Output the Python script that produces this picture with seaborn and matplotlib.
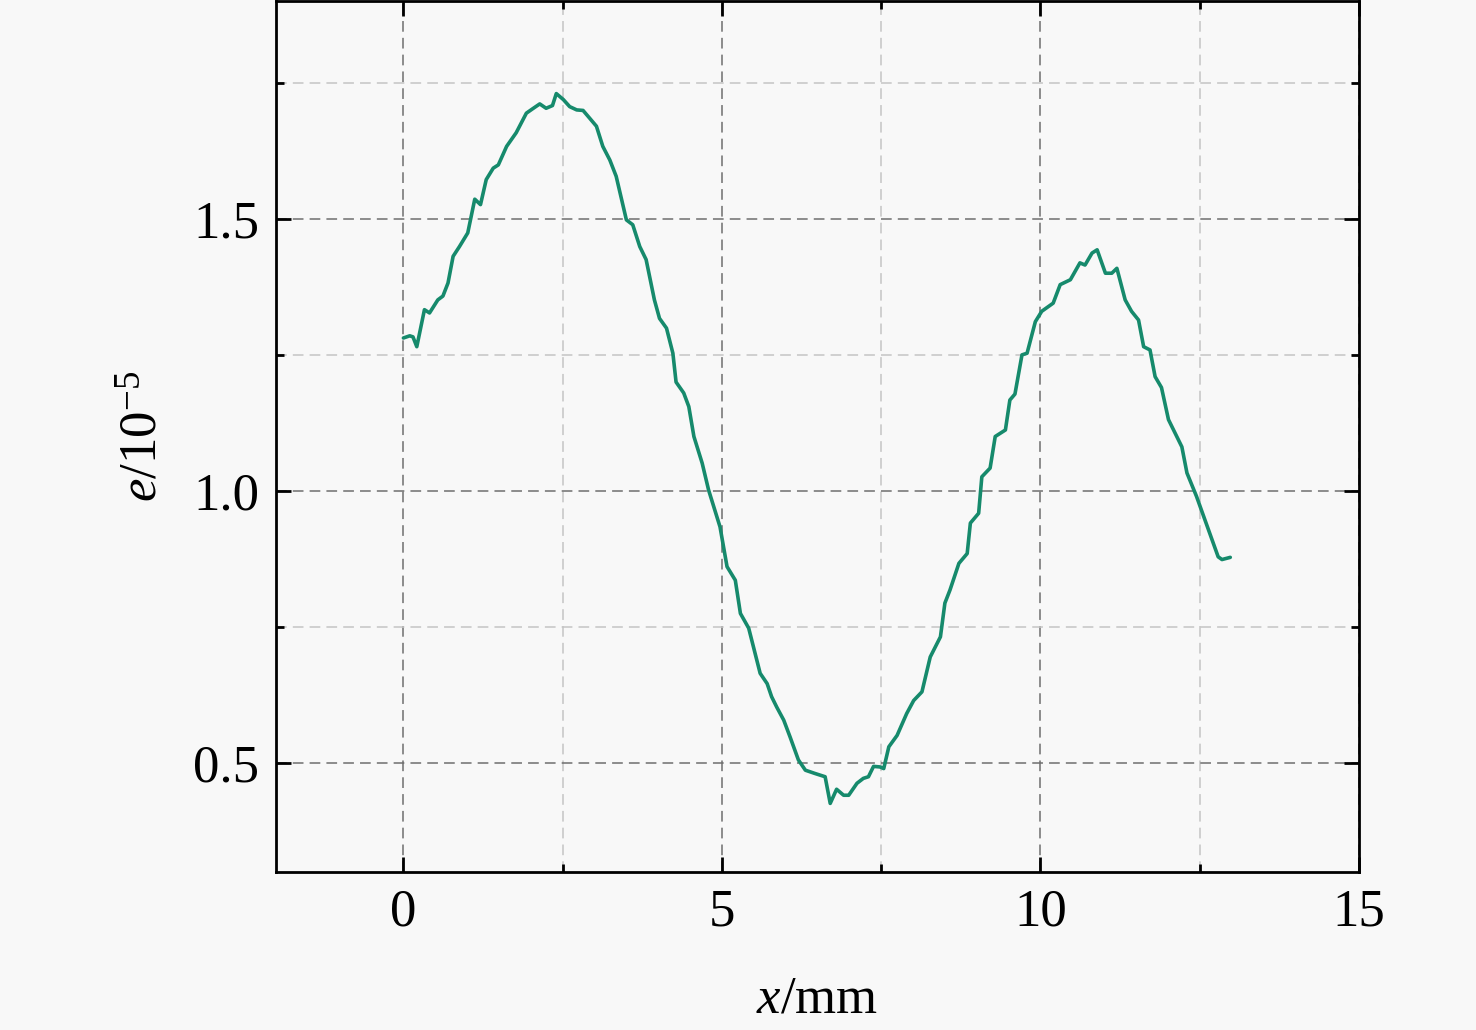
import numpy as np
import pandas as pd
import seaborn as sns
import matplotlib
matplotlib.use("Agg")
import matplotlib.pyplot as plt
from matplotlib.ticker import MultipleLocator, FormatStrFormatter

# position along the sample (mm)
x_mm = [0.00, 0.10, 0.15, 0.21, 0.33, 0.41, 0.54, 0.62, 0.70, 0.78, 0.88, 1.01,
        1.12, 1.21, 1.30, 1.41, 1.49, 1.62, 1.77, 1.93, 2.04, 2.14, 2.24, 2.34,
        2.40, 2.51, 2.61, 2.72, 2.82, 2.90, 3.03, 3.13, 3.24, 3.34, 3.50, 3.60,
        3.71, 3.81, 3.94, 4.02, 4.13, 4.23, 4.28, 4.40, 4.48, 4.56, 4.69, 4.79,
        4.97, 5.08, 5.21, 5.29, 5.42, 5.60, 5.71, 5.78, 5.86, 5.97, 6.07, 6.20,
        6.31, 6.46, 6.62, 6.70, 6.80, 6.91, 6.99, 7.12, 7.22, 7.30, 7.38, 7.48,
        7.54, 7.62, 7.75, 7.90, 8.01, 8.14, 8.27, 8.43, 8.50, 8.58, 8.72, 8.85,
        8.90, 9.03, 9.08, 9.21, 9.29, 9.45, 9.52, 9.60, 9.71, 9.79, 9.92, 10.02,
        10.20, 10.31, 10.47, 10.62, 10.70, 10.81, 10.89, 11.02, 11.12, 11.20,
        11.33, 11.43, 11.54, 11.62, 11.72, 11.80, 11.90, 12.01, 12.22, 12.30,
        12.45, 12.79, 12.85, 12.98]
# strain (x 1e-5)
e_val = [1.281, 1.285, 1.283, 1.265, 1.333, 1.327, 1.351, 1.358, 1.382, 1.431,
         1.449, 1.474, 1.536, 1.526, 1.572, 1.593, 1.599, 1.633, 1.658, 1.694,
         1.703, 1.711, 1.703, 1.708, 1.730, 1.719, 1.706, 1.700, 1.699, 1.688,
         1.670, 1.633, 1.608, 1.578, 1.498, 1.489, 1.449, 1.425, 1.351, 1.317,
         1.299, 1.253, 1.200, 1.180, 1.155, 1.100, 1.051, 1.002, 0.934, 0.861,
         0.836, 0.775, 0.748, 0.665, 0.646, 0.622, 0.603, 0.579, 0.548, 0.506,
         0.487, 0.481, 0.475, 0.426, 0.452, 0.441, 0.441, 0.463, 0.472, 0.475,
         0.494, 0.493, 0.490, 0.530, 0.551, 0.591, 0.615, 0.631, 0.695, 0.732,
         0.794, 0.818, 0.867, 0.885, 0.941, 0.959, 1.026, 1.042, 1.100, 1.112,
         1.167, 1.178, 1.250, 1.253, 1.311, 1.330, 1.345, 1.379, 1.388, 1.419,
         1.415, 1.437, 1.443, 1.400, 1.400, 1.409, 1.351, 1.330, 1.314, 1.265,
         1.259, 1.210, 1.190, 1.131, 1.081, 1.033, 0.990, 0.879, 0.874, 0.878]

df = pd.DataFrame({"x": x_mm, "e": e_val})

sns.set_theme(style="ticks")
plt.rcParams["font.family"] = ["Liberation Serif", "DejaVu Serif"]
plt.rcParams["mathtext.fontset"] = "custom"
plt.rcParams["mathtext.rm"] = "Liberation Serif"
plt.rcParams["mathtext.it"] = "Liberation Serif:italic"
plt.rcParams["text.color"] = "black"
plt.rcParams["axes.labelcolor"] = "black"
plt.rcParams["xtick.color"] = "black"
plt.rcParams["ytick.color"] = "black"

bg = "#f8f8f8"
fig = plt.figure(figsize=(14.76, 10.30), dpi=100, facecolor=bg)
ax = fig.add_axes([0.187, 0.1534, 0.7337, 0.8456])
ax.set_facecolor(bg)

ax.xaxis.set_major_locator(MultipleLocator(5))
ax.xaxis.set_minor_locator(MultipleLocator(2.5))
ax.yaxis.set_major_locator(MultipleLocator(0.5))
ax.yaxis.set_minor_locator(MultipleLocator(0.25))
ax.yaxis.set_major_formatter(FormatStrFormatter("%.1f"))

ax.grid(which="major", color="#6e6e6e", linestyle=(0, (7, 4)), linewidth=1.1)
ax.grid(which="minor", color="#c4c4c4", linestyle=(0, (7, 4)), linewidth=1.1)
ax.set_axisbelow(True)

sns.lineplot(data=df, x="x", y="e", ax=ax, color="#168a6c", linewidth=2.6,
             sort=False, estimator=None)

ax.set_xlim(-2, 15)
ax.set_ylim(0.3, 1.9)

for s in ax.spines.values():
    s.set_linewidth(2.0)
    s.set_color("black")
ax.tick_params(which="both", direction="in", top=True, right=True,
               width=2.0, color="black")
ax.tick_params(which="major", length=11, labelsize=38, pad=12)
ax.tick_params(which="minor", length=6)

ax.set_xlabel("$x$/mm", fontsize=38, labelpad=28)
ax.set_ylabel("$e$/10$^{-5}$", fontsize=38, labelpad=18)

fig.savefig("out.png", dpi=100, facecolor=bg)
